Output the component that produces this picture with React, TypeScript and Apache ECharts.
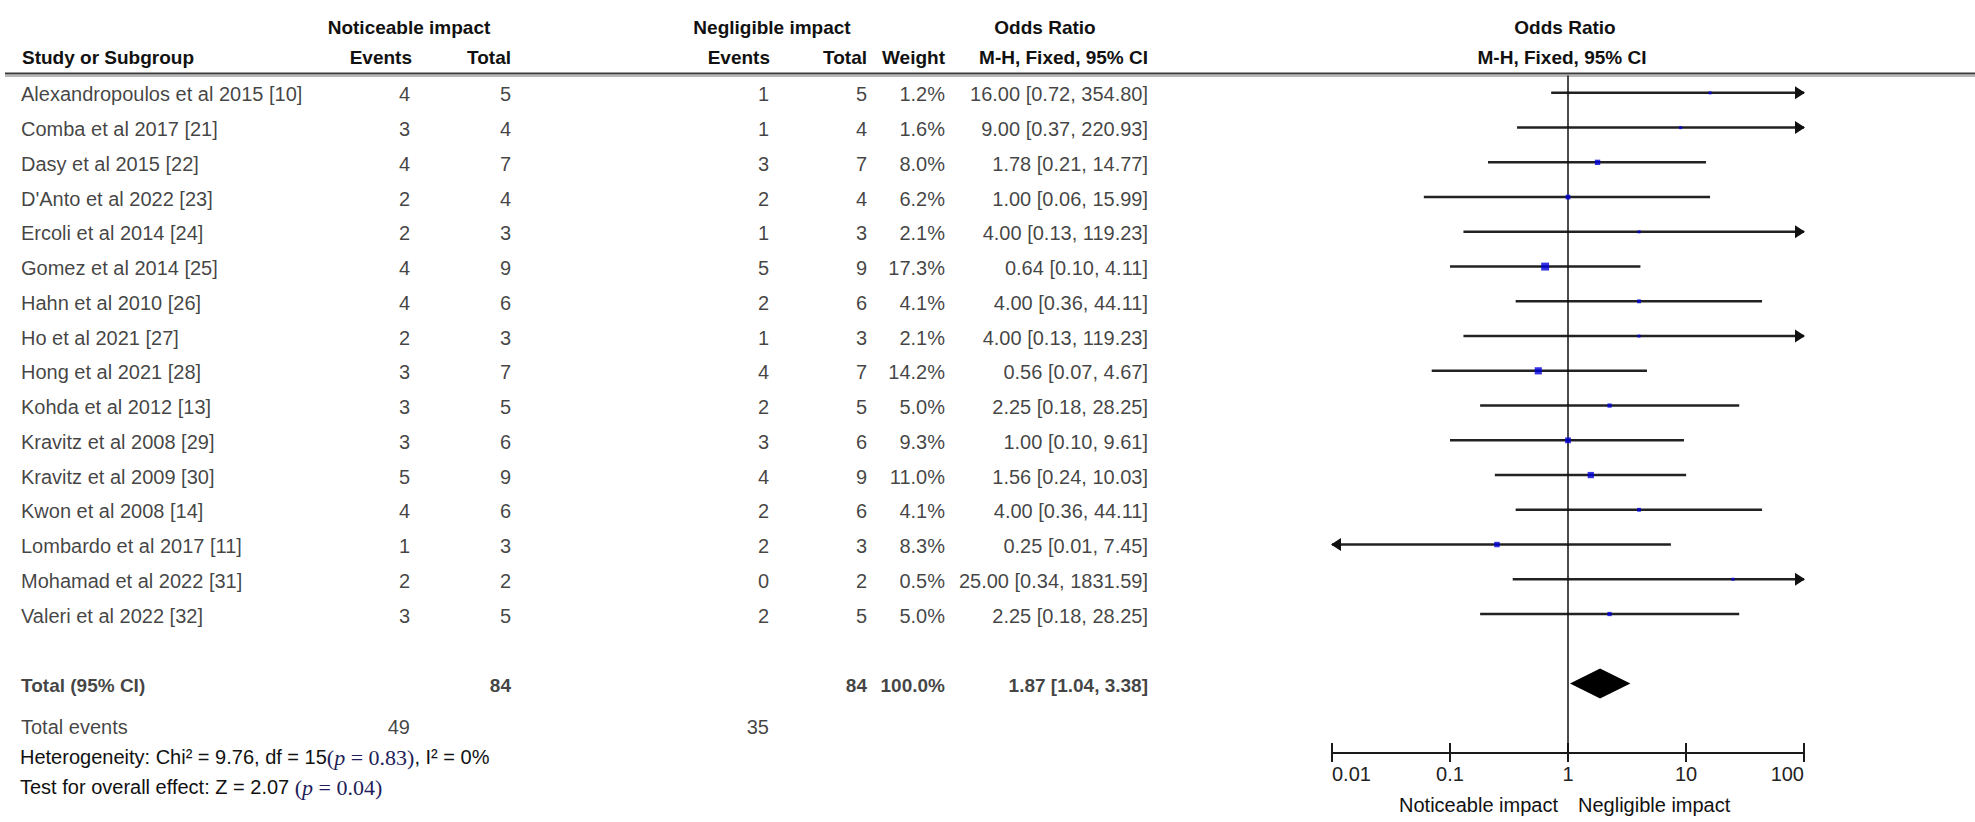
import React, { useEffect, useRef } from "react";
import * as echarts from "echarts";

// ---------------- data ----------------
const studies = [
  "Alexandropoulos et al 2015 [10]",
  "Comba et al 2017 [21]",
  "Dasy et al 2015 [22]",
  "D'Anto et al 2022 [23]",
  "Ercoli et al 2014 [24]",
  "Gomez et al 2014 [25]",
  "Hahn et al 2010 [26]",
  "Ho et al 2021 [27]",
  "Hong et al 2021 [28]",
  "Kohda et al 2012 [13]",
  "Kravitz et al 2008 [29]",
  "Kravitz et al 2009 [30]",
  "Kwon et al 2008 [14]",
  "Lombardo et al 2017 [11]",
  "Mohamad et al 2022 [31]",
  "Valeri et al 2022 [32]",
];
const eventsNoticeable = [4, 3, 4, 2, 2, 4, 4, 2, 3, 3, 3, 5, 4, 1, 2, 3];
const totalNoticeable = [5, 4, 7, 4, 3, 9, 6, 3, 7, 5, 6, 9, 6, 3, 2, 5];
const eventsNegligible = [1, 1, 3, 2, 1, 5, 2, 1, 4, 2, 3, 4, 2, 2, 0, 2];
const totalNegligible = [5, 4, 7, 4, 3, 9, 6, 3, 7, 5, 6, 9, 6, 3, 2, 5];
const weights = [1.2, 1.6, 8.0, 6.2, 2.1, 17.3, 4.1, 2.1, 14.2, 5.0, 9.3, 11.0, 4.1, 8.3, 0.5, 5.0];
const oddsRatio = [16.0, 9.0, 1.78, 1.0, 4.0, 0.64, 4.0, 4.0, 0.56, 2.25, 1.0, 1.56, 4.0, 0.25, 25.0, 2.25];
const ciLower = [0.72, 0.37, 0.21, 0.06, 0.13, 0.1, 0.36, 0.13, 0.07, 0.18, 0.1, 0.24, 0.36, 0.01, 0.34, 0.18];
const ciUpper = [354.8, 220.93, 14.77, 15.99, 119.23, 4.11, 44.11, 119.23, 4.67, 28.25, 9.61, 10.03, 44.11, 7.45, 1831.59, 28.25];
const pooledOR = 1.87;
const pooledLower = 1.04;
const pooledUpper = 3.38;
const axisTickValues = [0.01, 0.1, 1, 10, 100];
const heterogeneityChi2 = 9.76;
const heterogeneityDf = 15;
const heterogeneityP = 0.83;
const heterogeneityI2 = 0;
const overallZ = 2.07;
const overallP = 0.04;
const favoursLeft = "Noticeable impact";
const favoursRight = "Negligible impact";

// ---------------- layout ----------------
const W = 1975;
const H = 822;
const GRID_TOP = 75.5;
const GRID_H = 677.5;
const Y_MIN = -0.5;
const Y_MAX = 19;
const PLOT_LEFT = 1332;
const PLOT_W = 472;
const X_MIN = axisTickValues[0];
const X_MAX = axisTickValues[axisTickValues.length - 1];
const TOTAL_ROW = 17;
const EVENTS_ROW = 18.2;
const SANS = "'Liberation Sans', Arial, Helvetica, sans-serif";
const SERIF = "'Liberation Serif', 'Times New Roman', serif";
const INK = "#111";

const sum = (a: number[]) => a.reduce((s, v) => s + v, 0);
const f2 = (v: number) => v.toFixed(2);
const ciText = (o: number, l: number, h: number) => `${f2(o)} [${f2(l)}, ${f2(h)}]`;

type Cell = { text: string; row: number; bold?: boolean };
type Column = { x: number; align: "left" | "right"; cells: Cell[] };

const columns: Column[] = [
  {
    x: 21,
    align: "left",
    cells: [
      ...studies.map((s, i) => ({ text: s, row: i })),
      { text: "Total (95% CI)", row: TOTAL_ROW, bold: true },
      { text: "Total events", row: EVENTS_ROW },
    ],
  },
  {
    x: 410,
    align: "right",
    cells: [
      ...eventsNoticeable.map((v, i) => ({ text: String(v), row: i })),
      { text: String(sum(eventsNoticeable)), row: EVENTS_ROW },
    ],
  },
  {
    x: 511,
    align: "right",
    cells: [
      ...totalNoticeable.map((v, i) => ({ text: String(v), row: i })),
      { text: String(sum(totalNoticeable)), row: TOTAL_ROW, bold: true },
    ],
  },
  {
    x: 769,
    align: "right",
    cells: [
      ...eventsNegligible.map((v, i) => ({ text: String(v), row: i })),
      { text: String(sum(eventsNegligible)), row: EVENTS_ROW },
    ],
  },
  {
    x: 867,
    align: "right",
    cells: [
      ...totalNegligible.map((v, i) => ({ text: String(v), row: i })),
      { text: String(sum(totalNegligible)), row: TOTAL_ROW, bold: true },
    ],
  },
  {
    x: 945,
    align: "right",
    cells: [
      ...weights.map((v, i) => ({ text: v.toFixed(1) + "%", row: i })),
      { text: sum(weights).toFixed(1) + "%", row: TOTAL_ROW, bold: true },
    ],
  },
  {
    x: 1148,
    align: "right",
    cells: [
      ...oddsRatio.map((v, i) => ({ text: ciText(v, ciLower[i], ciUpper[i]), row: i })),
      { text: ciText(pooledOR, pooledLower, pooledUpper), row: TOTAL_ROW, bold: true },
    ],
  },
];

const headerText = (
  text: string,
  x: number,
  y: number,
  align: "left" | "center" | "right",
  bold = true,
  size = 19
) => ({
  type: "text",
  x,
  y,
  silent: true,
  style: {
    text,
    fill: INK,
    fontFamily: SANS,
    fontSize: size,
    fontWeight: bold ? "bold" : "normal",
    align,
    textAlign: align,
    verticalAlign: "middle",
    textVerticalAlign: "middle",
  },
});

const richStyles = {
  s: { fontFamily: SANS, fontSize: 20, fill: INK, color: INK },
  r: { fontFamily: SERIF, fontSize: 22, fill: "#1e1e5a", color: "#1e1e5a" },
  i: { fontFamily: SERIF, fontSize: 22, fontStyle: "italic", fill: "#1e1e5a", color: "#1e1e5a" },
};

export default function App() {
  const ref = useRef<HTMLDivElement>(null);

  useEffect(() => {
    if (!ref.current) return;
    const chart = echarts.init(ref.current, null, { renderer: "svg", width: W, height: H });

    const logAxisBase = {
      type: "log",
      logBase: 10,
      min: X_MIN,
      max: X_MAX,
      gridIndex: 0,
      position: "bottom",
      splitLine: { show: false },
    };

    const option: any = {
      animation: false,
      backgroundColor: "#fff",
      grid: [
        { left: PLOT_LEFT, top: GRID_TOP, width: PLOT_W, height: GRID_H },
        { left: 0, top: GRID_TOP, width: W, height: GRID_H },
      ],
      xAxis: [
        {
          ...logAxisBase,
          axisLine: { show: true, onZero: false, lineStyle: { color: "#1a1a1a", width: 2 } },
          axisTick: { show: true, inside: false, length: 9, lineStyle: { color: "#1a1a1a", width: 2 } },
          axisLabel: {
            show: true,
            margin: 11,
            fontFamily: SANS,
            fontSize: 20,
            color: "#222",
            alignMinLabel: "left",
            alignMaxLabel: "right",
            formatter: (v: number) => String(parseFloat(Number(v).toPrecision(6))),
          },
        },
        {
          ...logAxisBase,
          axisLine: { show: false, onZero: false },
          axisTick: { show: true, inside: true, length: 10, lineStyle: { color: "#1a1a1a", width: 2 } },
          axisLabel: { show: false },
        },
        { type: "value", gridIndex: 1, min: 0, max: W, show: false },
      ],
      yAxis: [
        { type: "value", gridIndex: 0, inverse: true, min: Y_MIN, max: Y_MAX, show: false },
        { type: "value", gridIndex: 1, inverse: true, min: Y_MIN, max: Y_MAX, show: false },
      ],
      graphic: [
        {
          type: "line",
          silent: true,
          shape: { x1: 5, y1: 73.5, x2: W, y2: 73.5 },
          style: { stroke: "#3a3a3a", lineWidth: 2 },
        },
        {
          type: "line",
          silent: true,
          shape: { x1: 5, y1: 76, x2: W, y2: 76 },
          style: { stroke: "#a0a0a0", lineWidth: 1.5 },
        },
        headerText("Noticeable impact", 409, 27, "center"),
        headerText("Negligible impact", 772, 27, "center"),
        headerText("Odds Ratio", 1045, 27, "center"),
        headerText("Odds Ratio", 1565, 27, "center"),
        headerText("Study or Subgroup", 22, 57, "left"),
        headerText("Events", 412, 57, "right"),
        headerText("Total", 511, 57, "right"),
        headerText("Events", 770, 57, "right"),
        headerText("Total", 867, 57, "right"),
        headerText("Weight", 945, 57, "right"),
        headerText("M-H, Fixed, 95% CI", 1148, 57, "right"),
        headerText("M-H, Fixed, 95% CI", 1562, 57, "center"),
        {
          type: "text",
          x: 20,
          y: 757,
          silent: true,
          style: {
            text: `{s|Heterogeneity: Chi² = ${heterogeneityChi2.toFixed(2)}, df = ${heterogeneityDf}}{r|(}{i|p}{r| = ${heterogeneityP.toFixed(2)})}{s|, I² = ${heterogeneityI2}%}`,
            rich: richStyles,
            verticalAlign: "middle",
            textVerticalAlign: "middle",
          },
        },
        {
          type: "text",
          x: 20,
          y: 787,
          silent: true,
          style: {
            text: `{s|Test for overall effect: Z = ${overallZ.toFixed(2)} }{r|(}{i|p}{r| = ${overallP.toFixed(2)})}`,
            rich: richStyles,
            verticalAlign: "middle",
            textVerticalAlign: "middle",
          },
        },
        headerText(favoursLeft, 1558, 805, "right", false, 20),
        headerText(favoursRight, 1578, 805, "left", false, 20),
      ],
      series: [
        // confidence interval lines with arrows when off-scale
        {
          type: "custom",
          xAxisIndex: 0,
          yAxisIndex: 0,
          silent: true,
          clip: false,
          encode: { x: [0, 1], y: 2 },
          data: studies.map((_, i) => [ciLower[i], ciUpper[i], i]),
          renderItem: (params: any, api: any) => {
            const lo = api.value(0);
            const hi = api.value(1);
            const row = api.value(2);
            const p1 = api.coord([Math.max(lo, X_MIN), row]);
            const p2 = api.coord([Math.min(hi, X_MAX), row]);
            const children: any[] = [
              {
                type: "line",
                shape: { x1: p1[0], y1: p1[1], x2: p2[0], y2: p2[1] },
                style: { stroke: "#222", lineWidth: 2.5 },
              },
            ];
            if (hi > X_MAX) {
              children.push({
                type: "polygon",
                shape: {
                  points: [
                    [p2[0] + 1, p2[1]],
                    [p2[0] - 9, p2[1] - 6.5],
                    [p2[0] - 9, p2[1] + 6.5],
                  ],
                },
                style: { fill: "#111" },
              });
            }
            if (lo <= X_MIN) {
              children.push({
                type: "polygon",
                shape: {
                  points: [
                    [p1[0] - 1, p1[1]],
                    [p1[0] + 9, p1[1] - 6.5],
                    [p1[0] + 9, p1[1] + 6.5],
                  ],
                },
                style: { fill: "#111" },
              });
            }
            return { type: "group", children };
          },
        },
        // pooled diamond
        {
          type: "custom",
          xAxisIndex: 0,
          yAxisIndex: 0,
          silent: true,
          clip: false,
          encode: { x: [0, 1, 2], y: 3 },
          data: [[pooledLower, pooledOR, pooledUpper, TOTAL_ROW]],
          renderItem: (params: any, api: any) => {
            const row = api.value(3);
            const l = api.coord([api.value(0), row]);
            const c = api.coord([api.value(1), row]);
            const r = api.coord([api.value(2), row]);
            const hh = 15;
            return {
              type: "polygon",
              shape: {
                points: [
                  [l[0], l[1]],
                  [c[0], c[1] - hh],
                  [r[0], r[1]],
                  [c[0], c[1] + hh],
                ],
              },
              style: { fill: "#000" },
            };
          },
        },
        // study point estimates (square size by weight) + line of no effect
        {
          type: "scatter",
          xAxisIndex: 0,
          yAxisIndex: 0,
          silent: true,
          symbol: "rect",
          symbolSize: (v: number[]) => Math.max(3, Math.sqrt(v[2]) * 1.9),
          itemStyle: { color: "#0000dd" },
          data: studies.map((_, i) => [oddsRatio[i], i, weights[i]]),
          markLine: {
            silent: true,
            symbol: ["none", "none"],
            label: { show: false },
            lineStyle: { color: "#111", width: 1.5, type: "solid" },
            data: [{ xAxis: 1 }],
          },
          z: 5,
        },
        // table cells
        ...columns.map((c) => ({
          type: "scatter",
          xAxisIndex: 2,
          yAxisIndex: 1,
          silent: true,
          clip: false,
          symbolSize: 0,
          itemStyle: { color: "rgba(0,0,0,0)" },
          label: {
            show: true,
            position: c.align === "left" ? "right" : "left",
            distance: 0,
            formatter: "{b}",
            fontFamily: SANS,
            fontSize: 20,
            color: INK,
            offset: [0, 1.5],
          },
          data: c.cells.map((cell) => ({
            name: cell.text,
            value: [c.x, cell.row],
            label: cell.bold ? { fontWeight: "bold", fontSize: 19 } : undefined,
          })),
        })),
      ],
    };

    chart.setOption(option);
    return () => chart.dispose();
  }, []);

  return (
    <div
      ref={ref}
      style={{ position: "fixed", left: 0, top: 0, width: W, height: H, background: "#fff" }}
    />
  );
}
